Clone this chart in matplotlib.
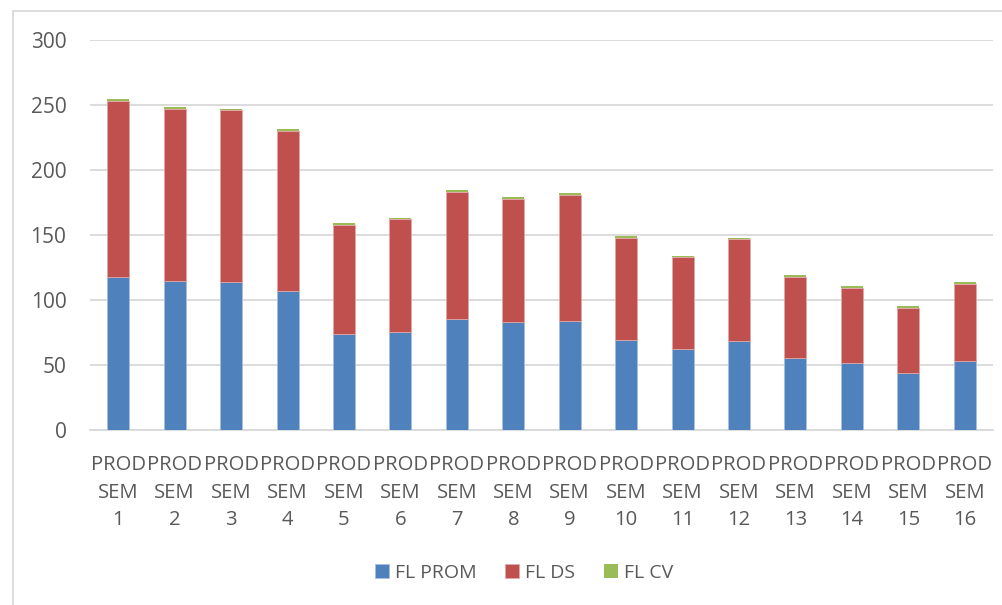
import matplotlib.pyplot as plt
from matplotlib.patches import Rectangle
import numpy as np

# data
categories = [f"PROD\nSEM\n{i}" for i in range(1, 17)]
fl_prom = [117.4, 114.9, 114.1, 106.9, 73.6, 75.4, 85.1, 82.8,
           84.1, 69.0, 62.1, 68.5, 55.1, 51.3, 43.8, 52.8]
fl_ds = [135.7, 132.3, 131.8, 123.4, 84.4, 86.6, 98.2, 95.1,
         96.9, 78.9, 70.7, 78.2, 62.9, 58.2, 50.0, 59.8]
fl_cv = [1.3, 1.3, 0.8, 1.0, 1.5, 1.3, 1.3, 1.1,
         1.3, 1.3, 1.3, 1.2, 1.0, 1.0, 1.3, 1.0]
y_ticks = [0, 50, 100, 150, 200, 250, 300]

plt.rcParams['font.family'] = ['Open Sans', 'DejaVu Sans']
txt = '#595959'
fs = 15

fig = plt.figure(figsize=(10.03, 6.05), dpi=100)
ax = fig.add_axes([90 / 1003, 175 / 605, 903 / 1003, 390 / 605])

# chart area border
fig.patches.append(Rectangle((13 / 1003, -0.05), 1.1, 0.05 + (605 - 11) / 605,
                             transform=fig.transFigure, fill=False,
                             edgecolor='#d9d9d9', linewidth=1.3))

x = np.arange(len(categories))
prom = np.array(fl_prom)
ds = np.array(fl_ds)
cv = np.array(fl_cv)
w = 0.39
ax.bar(x, prom, w, color='#4f81bd', label='FL PROM', edgecolor='#a7c0de', linewidth=0.6, zorder=3)
ax.bar(x, ds, w, bottom=prom, color='#c0504d', label='FL DS', edgecolor='#dfa7a6', linewidth=0.6, zorder=3)
ax.bar(x, cv, w, bottom=prom + ds, color='#9bbb59', label='FL CV', zorder=3)

ax.set_xlim(-0.5, len(categories) - 0.5)
ax.set_ylim(0, 300)
ax.set_yticks(y_ticks)
ax.set_yticklabels([str(v) for v in y_ticks], fontsize=fs, color=txt)
ax.set_xticks(x)
ax.set_xticklabels(categories, fontsize=14.6, color=txt, linespacing=1.5)
ax.tick_params(length=0)
ax.tick_params(axis='y', pad=17)
ax.tick_params(axis='x', pad=18)
ax.yaxis.grid(True, color='#d9d9d9', linewidth=1.3, zorder=0)
for s in ['top', 'right', 'left']:
    ax.spines[s].set_visible(False)
ax.spines['bottom'].set_color('#d9d9d9')
ax.spines['bottom'].set_linewidth(1.3)

leg = fig.legend(loc='center', bbox_to_anchor=(524 / 1003, 1 - 573 / 605), ncol=3,
                 frameon=False, fontsize=14, handlelength=0.7, handleheight=0.7,
                 handletextpad=0.3, columnspacing=1.5)
for t in leg.get_texts():
    t.set_color(txt)

fig.savefig('out.png', dpi=100)
